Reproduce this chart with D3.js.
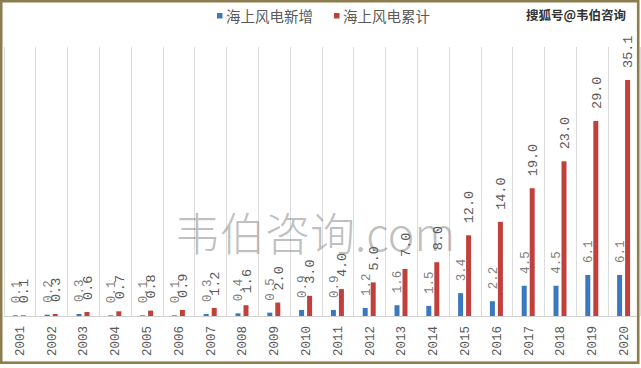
<!DOCTYPE html>
<html>
<head>
<meta charset="utf-8">
<script src="https://cdn.jsdelivr.net/npm/d3@7"></script>
<style>
  body { margin: 0; background: #fff; }
  svg { display: block; }
</style>
</head>
<body>
<script>
// offshore wind: yearly additions and cumulative total
const years = ["2001","2002","2003","2004","2005","2006","2007","2008","2009","2010",
               "2011","2012","2013","2014","2015","2016","2017","2018","2019","2020"];
const added = [0.1,0.2,0.3,0.1,0.1,0.1,0.3,0.4,0.5,0.9,0.9,1.2,1.6,1.5,3.4,2.2,4.5,4.5,6.1,6.1];
const total = [0.1,0.3,0.6,0.7,0.8,0.9,1.2,1.6,2.0,3.0,4.0,5.0,7.0,8.0,12.0,14.0,19.0,23.0,29.0,35.1];
const seriesNames = ["海上风电新增", "海上风电累计"];
const colors = ["#3a78c0", "#c0403c"];

const width = 641, height = 368;
const plot = { left: 3.5, right: 639.5, top: 47, bottom: 316 };

const svg = d3.select("body").append("svg")
    .attr("width", width)
    .attr("height", height);

svg.append("rect")
    .attr("width", width).attr("height", height)
    .attr("fill", "#fff");

const x = d3.scaleBand()
    .domain(years)
    .range([plot.left, plot.right]);

const bw = x.bandwidth();
const x1 = d3.scaleBand()
    .domain([0, 1])
    .range([bw / 2 - 6.5, bw / 2 + 6.5])
    .paddingInner(0.375);

const y = d3.scaleLinear()
    .domain([0, 40])
    .range([plot.bottom, plot.top]);

// vertical category separators
const grid = svg.append("g")
    .attr("stroke", "#dcdcdc")
    .attr("stroke-width", 1);
grid.selectAll("line")
  .data(years.concat(["end"]))
  .join("line")
    .attr("x1", (d, i) => Math.round(plot.left + i * bw) + 0.5)
    .attr("x2", (d, i) => Math.round(plot.left + i * bw) + 0.5)
    .attr("y1", plot.top)
    .attr("y2", plot.bottom);

// watermark behind bars
svg.append("text")
    .attr("x", 175)
    .attr("y", 251)
    .attr("font-family", "'Noto Sans CJK SC', sans-serif")
    .attr("font-size", 45)
    .attr("font-weight", 300)
    .attr("fill", "#8a8a8a")
    .attr("fill-opacity", 0.55)
    .text("韦伯咨询.com");

// category axis
const xAxis = svg.append("g")
    .attr("transform", `translate(0,${plot.bottom})`)
    .call(d3.axisBottom(x).tickSize(0).tickPadding(0));
xAxis.select(".domain")
    .attr("stroke", "#d0d0d0")
    .attr("d", `M${plot.left},0.5H${plot.right}`);
xAxis.selectAll(".tick text")
    .attr("transform", "translate(0,10) rotate(-90)")
    .attr("text-anchor", "end")
    .attr("dy", "0.35em")
    .attr("y", 0)
    .attr("x", 0)
    .attr("font-family", "'Liberation Mono', monospace")
    .attr("font-size", 12.5)
    .attr("fill", "#595959");

const rows = years.map((yr, i) => ({ year: yr, vals: [added[i], total[i]] }));

const groups = svg.append("g")
  .selectAll("g")
  .data(rows)
  .join("g")
    .attr("transform", d => `translate(${x(d.year)},0)`);

groups.selectAll("rect")
  .data(d => d.vals.map((v, k) => ({ k, v })))
  .join("rect")
    .attr("x", d => x1(d.k))
    .attr("width", x1.bandwidth())
    .attr("y", d => y(d.v))
    .attr("height", d => y(0) - y(d.v))
    .attr("fill", d => colors[d.k]);

groups.selectAll("text")
  .data(d => d.vals.map((v, k) => ({ k, v })))
  .join("text")
    .attr("transform", d => `translate(${x1(d.k) + x1.bandwidth() / 2},${y(d.v) - 12}) rotate(-90)`)
    .attr("dy", "0.35em")
    .attr("font-family", "'Liberation Mono', monospace")
    .attr("font-size", d => d.k ? 13.5 : 12.5)
    .attr("fill", d => d.k ? "#595959" : "#7f7f7f")
    .text(d => d3.format(".1f")(d.v));

// legend
const legend = svg.append("g")
    .attr("font-family", "'Noto Sans CJK SC', sans-serif")
    .attr("font-size", 14.5)
    .attr("fill", "#595959");
const lx = [217, 334];
legend.selectAll("rect")
  .data(seriesNames)
  .join("rect")
    .attr("x", (d, i) => lx[i])
    .attr("y", 13)
    .attr("width", 5.5)
    .attr("height", 5.5)
    .attr("fill", (d, i) => colors[i]);
legend.selectAll("text")
  .data(seriesNames)
  .join("text")
    .attr("x", (d, i) => lx[i] + 9)
    .attr("y", 21.5)
    .text(d => d);

svg.append("text")
    .attr("x", 526)
    .attr("y", 19.5)
    .attr("font-family", "'Noto Sans CJK SC', sans-serif")
    .attr("font-size", 12.5)
    .attr("font-weight", 700)
    .attr("fill", "#333")
    .text("搜狐号@韦伯咨询");

// frame
svg.append("rect")
    .attr("x", 1.2)
    .attr("y", 1.2)
    .attr("width", 637)
    .attr("height", 361.5)
    .attr("fill", "none")
    .attr("stroke", "#8c7d4e")
    .attr("stroke-width", 2.6);
</script>
</body>
</html>
